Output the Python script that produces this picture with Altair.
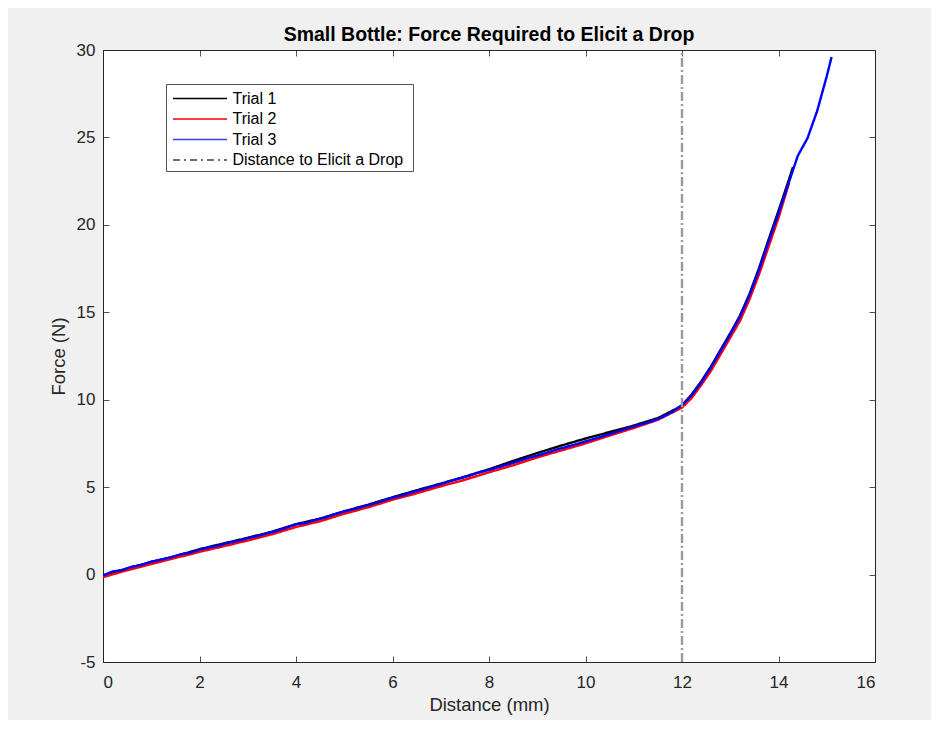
import altair as alt
import pandas as pd

# ---- data ----
t1_x = [0, 0.5, 1, 1.5, 2, 2.5, 3, 3.5, 4, 4.5, 5, 5.5, 6, 6.5, 7, 7.5, 8, 8.5, 9, 9.5,
        10, 10.5, 11, 11.5, 12, 12.2, 12.4, 12.6, 12.8, 13.0, 13.2, 13.4, 13.6, 13.8, 14.0, 14.2, 14.3]
t1_y = [-0.05, 0.35, 0.72, 1.05, 1.45, 1.78, 2.1, 2.45, 2.88, 3.2, 3.62, 4.0, 4.42, 4.82, 5.2, 5.6,
        6.02, 6.5, 6.95, 7.38, 7.78, 8.15, 8.52, 8.95, 9.65, 10.3, 11.05, 11.9, 12.85, 13.8, 14.8,
        16.05, 17.55, 19.2, 20.8, 22.45, 23.3]

t2_x = [0, 0.5, 1, 1.5, 2, 2.5, 3, 3.5, 4, 4.5, 5, 5.5, 6, 6.5, 7, 7.5, 8, 8.5, 9, 9.5,
        10, 10.5, 11, 11.5, 12, 12.2, 12.4, 12.6, 12.8, 13.0, 13.2, 13.4, 13.6, 13.8, 14.0, 14.22]
t2_y = [-0.15, 0.25, 0.6, 0.95, 1.3, 1.62, 1.95, 2.3, 2.72, 3.05, 3.48, 3.85, 4.28, 4.65, 5.05,
        5.42, 5.85, 6.25, 6.7, 7.1, 7.5, 7.95, 8.38, 8.85, 9.55, 10.1, 10.85, 11.65, 12.6, 13.55,
        14.5, 15.75, 17.2, 18.8, 20.4, 22.4]

t3_x = [0.0, 0.2, 0.4, 0.6, 0.8, 1.0, 1.2, 1.4, 1.6, 1.8, 2.0, 2.2, 2.4, 2.6, 2.8, 3.0, 3.2, 3.4,
        3.6, 3.8, 4.0, 4.2, 4.4, 4.6, 4.8, 5.0, 5.2, 5.4, 5.6, 5.8, 6.0, 6.2, 6.4, 6.6, 6.8, 7.0,
        7.2, 7.4, 7.6, 7.8, 8.0, 8.2, 8.4, 8.6, 8.8, 9.0, 9.2, 9.4, 9.6, 9.8, 10.0, 10.2, 10.4,
        10.6, 10.8, 11.0, 11.2, 11.4, 11.6, 11.8, 12.0, 12.2, 12.4, 12.6, 12.8, 13.0, 13.2, 13.4,
        13.6, 13.8, 14.0, 14.2, 14.4, 14.6, 14.8, 15.0, 15.1]
t3_y = [-0.05, 0.18, 0.25, 0.45, 0.55, 0.74, 0.85, 0.98, 1.15, 1.25, 1.42, 1.55, 1.66, 1.82,
        1.92, 2.08, 2.2, 2.36, 2.5, 2.68, 2.88, 2.95, 3.12, 3.25, 3.45, 3.6, 3.74, 3.9, 4.05,
        4.22, 4.4, 4.52, 4.7, 4.85, 5.02, 5.17, 5.35, 5.5, 5.66, 5.85, 5.98, 6.15, 6.3, 6.48,
        6.66, 6.8, 6.97, 7.15, 7.3, 7.45, 7.62, 7.78, 7.95, 8.12, 8.3, 8.48, 8.62, 8.8, 9.02,
        9.3, 9.7, 10.25, 11.0, 11.85, 12.8, 13.75, 14.74, 16.0, 17.45, 19.1, 20.65, 22.3,
        23.95, 24.95, 26.5, 28.5, 29.6]

drop_x = [12, 12]
drop_y = [-5, 30]

names = ["Trial 1", "Trial 2", "Trial 3", "Distance to Elicit a Drop"]
colors = ["#000000", "#ff0000", "#0000ff", "#9a9a9a"]
leg_colors = ["#000000", "#ff0000", "#3a3aff", "#404040"]
dashes = [[1, 0], [1, 0], [1, 0], [9, 3, 2, 3]]
leg_dashes = [[1, 0], [1, 0], [1, 0], [7, 4, 2, 4]]
widths = [2.4, 2.4, 3.0, 1.4]

x_ticks = [0, 2, 4, 6, 8, 10, 12, 14, 16]
y_ticks = [-5, 0, 5, 10, 15, 20, 25, 30]

rows = []
for i, (xs, ys) in enumerate([(t1_x, t1_y), (t2_x, t2_y), (t3_x, t3_y), (drop_x, drop_y)]):
    for j, (a, b) in enumerate(zip(xs, ys)):
        rows.append({"dist": a, "force": b, "series": names[i], "order": j})
df = pd.DataFrame(rows)
leg_df = pd.DataFrame({"entry": names, "idx": list(range(len(names)))})

FONT = "Liberation Sans"
AX = "#262626"

xscale = alt.Scale(domain=[0, 16], nice=False, zero=False)
yscale = alt.Scale(domain=[-5, 30], nice=False, zero=False)
cscale = alt.Scale(domain=names, range=colors)
dscale = alt.Scale(domain=names, range=dashes)
wscale = alt.Scale(domain=names, range=widths)

lines = alt.Chart(df).mark_line(clip=True).encode(
    x=alt.X("dist:Q", scale=xscale, title="Distance (mm)",
            axis=alt.Axis(orient="bottom", values=x_ticks, offset=-6, tickSize=6, domain=False,
                          grid=False, labelPadding=12, labelFontSize=17, labelFont=FONT,
                          labelColor=AX, tickColor=AX, tickWidth=0.8, titleFont=FONT,
                          titleFontSize=18.5, titleFontWeight="normal", titleColor=AX,
                          titlePadding=5, labelExpr="'' + datum.value")),
    y=alt.Y("force:Q", scale=yscale, title="Force (N)",
            axis=alt.Axis(orient="left", values=y_ticks, offset=-6, tickSize=6, domain=False,
                          grid=False, labelPadding=8, labelFontSize=17, labelFont=FONT,
                          labelColor=AX, tickColor=AX, tickWidth=0.8, titleFont=FONT,
                          titleFontSize=18.5, titleFontWeight="normal", titleColor=AX,
                          titlePadding=8, labelExpr="'' + datum.value")),
    color=alt.Color("series:N", scale=cscale, legend=None),
    strokeDash=alt.StrokeDash("series:N", scale=dscale, legend=None),
    strokeWidth=alt.StrokeWidth("series:N", scale=wscale, legend=None),
    detail="series:N",
    order="order:Q",
)

mirror = alt.Chart(df).mark_point(opacity=0).encode(
    x=alt.X("dist:Q", scale=xscale, title=None,
            axis=alt.Axis(orient="top", values=x_ticks, offset=-6, tickSize=6, domain=False,
                          grid=False, labels=False, tickColor=AX, tickWidth=0.8)),
    y=alt.Y("force:Q", scale=yscale, title=None,
            axis=alt.Axis(orient="right", values=y_ticks, offset=-6, tickSize=6, domain=False,
                          grid=False, labels=False, tickColor=AX, tickWidth=0.8)),
)

# ---- manual MATLAB-like legend ----
leg_base = alt.Chart(leg_df).transform_calculate(ly="48.5 + 20.5 * datum.idx")

leg_box = alt.Chart(pd.DataFrame({"k": [0]})).mark_rect(
    fill="#ffffff", stroke=AX, strokeWidth=0.8
).encode(x=alt.value(63.5), x2=alt.value(310.5), y=alt.value(34.5), y2=alt.value(121.5))

leg_lines = leg_base.mark_rule(strokeWidth=1.4).encode(
    x=alt.value(70), x2=alt.value(124),
    y=alt.Y("ly:Q", scale=None),
    stroke=alt.Stroke("entry:N", scale=alt.Scale(domain=names, range=leg_colors), legend=None),
    strokeDash=alt.StrokeDash("entry:N", scale=alt.Scale(domain=names, range=leg_dashes),
                              legend=None),
)

leg_text = leg_base.mark_text(align="left", baseline="middle", font=FONT, fontSize=16,
                              color="#000000").encode(
    x=alt.value(129.5),
    y=alt.Y("ly:Q", scale=None),
    text="entry:N",
)

chart = alt.layer(mirror, lines, leg_box, leg_lines, leg_text).resolve_axis(
    x="independent", y="independent"
).resolve_scale(stroke="independent", strokeDash="independent").properties(
    width=772, height=612,
    background="#f0f0f0",
    padding={"left": 95, "top": 42, "right": 56, "bottom": 58},
    autosize=alt.AutoSizeParams(type="none"),
    title=alt.TitleParams("Small Bottle: Force Required to Elicit a Drop", font=FONT,
                          fontSize=19.5, fontWeight="bold", color="#000000", offset=6,
                          dy=10, anchor="middle"),
).configure_view(stroke=AX, strokeWidth=1, fill="#ffffff")

chart.save("out.html", embed_options={"renderer": "svg", "actions": False})
